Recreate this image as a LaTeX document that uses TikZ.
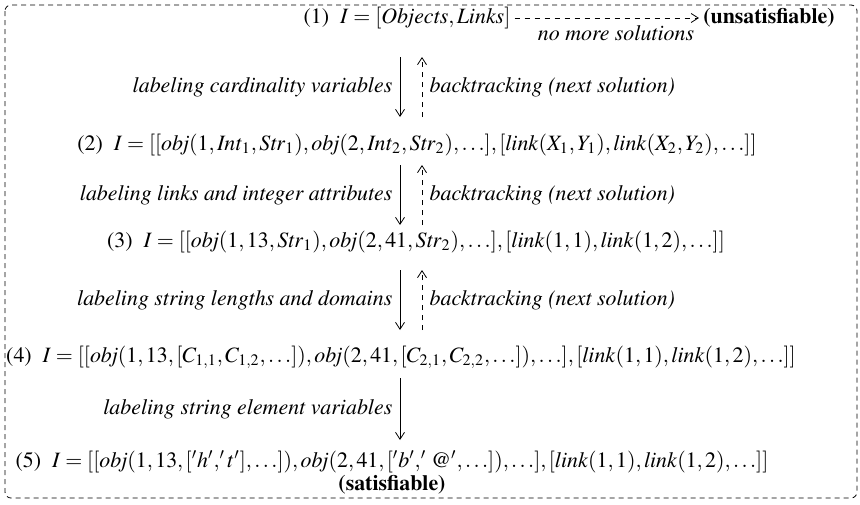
\documentclass[tikz,border=0pt,11pt]{standalone}
\usepackage{amsmath}
\usepackage[T1]{fontenc}
\usepackage{mathptmx}
\usepackage{tikz}
\usetikzlibrary{arrows.meta, positioning, calc}
\tikzstyle{state} = [inner sep=2pt, align=center]
\tikzstyle{lbl} = [font=\itshape]
\tikzstyle{arrow} = [-{Straight Barb[length=3.5pt, width=4.5pt]}]
\tikzstyle{back} = [-{Straight Barb[length=3.5pt, width=4.5pt]}, dash pattern=on 2.5pt off 2.5pt]
\begin{document}
\begin{tikzpicture}[x=0.5pt, y=-0.5pt]
\useasboundingbox (0,0) rectangle (860,504);

% Frame
\draw [dash pattern=on 2.5pt off 2pt, rounded corners=3pt] (5,5) rectangle (857,498);

% States
\node (s1) [state] at (407,18) {(1)\ \ $I=[\mathit{Objects},\mathit{Links}]$};
\node (unsat) [state] at (769,18) {\textbf{(unsatisfiable)}};
\node (s2) [state] at (417,145) {(2)\ \ $I=[[\mathit{obj}(1,\mathit{Int}_1,\mathit{Str}_1),\mathit{obj}(2,\mathit{Int}_2,\mathit{Str}_2),\ldots],[\mathit{link}(X_1,Y_1),\mathit{link}(X_2,Y_2),\ldots]]$};
\node (s3) [state] at (416,242) {(3)\ \ $I=[[\mathit{obj}(1,13,\mathit{Str}_1),\mathit{obj}(2,41,\mathit{Str}_2),\ldots],[\mathit{link}(1,1),\mathit{link}(1,2),\ldots]]$};
\node (s4) [state] at (401,357) {(4)\ \ $I=[[\mathit{obj}(1,13,[C_{1,1},C_{1,2},\ldots]),\mathit{obj}(2,41,[C_{2,1},C_{2,2},\ldots]),\ldots],[\mathit{link}(1,1),\mathit{link}(1,2),\ldots]]$};
\node (s5) [state, anchor=north] at (392,446) {(5)\ \ $I=[[\mathit{obj}(1,13,['h','t'],\ldots]),\mathit{obj}(2,41,['b','\,@',\ldots]),\ldots],[\mathit{link}(1,1),\mathit{link}(1,2),\ldots]]$\\[-2pt] \textbf{(satisfiable)}};

% Arrow ends
\coordinate (c1) at (400,57);
\coordinate (c2) at (400,165);
\coordinate (c3) at (400,270);
\coordinate (c4) at (400,378);

% Arrows
\draw [back] (s1) -- node[lbl, below, pos=0.55] {no more solutions} (unsat);
\draw [arrow] (c1) -- node[lbl, left] {labeling cardinality variables} ++(0,60);
\draw [back] ([xshift=11pt]c1) ++(0,60) -- node[lbl, right] {backtracking (next solution)} ([xshift=11pt]c1);
\draw [arrow] (c2) -- node[lbl, left] {labeling links and integer attributes} ++(0,60);
\draw [back] ([xshift=11pt]c2) ++(0,60) -- node[lbl, right] {backtracking (next solution)} ([xshift=11pt]c2);
\draw [arrow] (c3) -- node[lbl, left] {labeling string lengths and domains} ++(0,60);
\draw [back] ([xshift=11pt]c3) ++(0,60) -- node[lbl, right] {backtracking (next solution)} ([xshift=11pt]c3);
\draw [arrow] (c4) -- node[lbl, left] {labeling string element variables} ++(0,62);

\end{tikzpicture}
\end{document}
